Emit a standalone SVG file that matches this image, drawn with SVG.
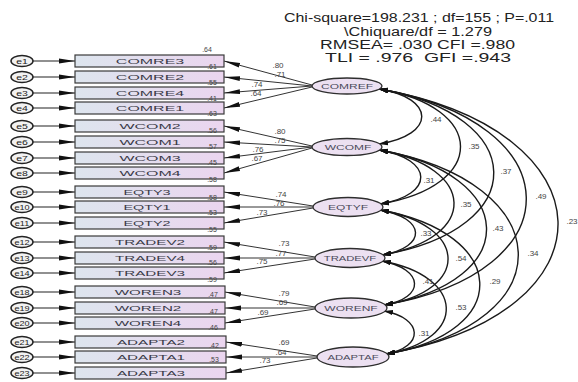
<svg xmlns="http://www.w3.org/2000/svg" width="578" height="382" viewBox="0 0 578 382">
<style>
text{font-family:"Liberation Sans",Arial,sans-serif}
.hd{font-size:12.5px;fill:#222;white-space:pre}
.ind rect{fill:url(#rg);stroke:#3a3a3a;stroke-width:1.2}
.it{font-size:8px;fill:#3a3a48;text-anchor:middle}
.r2{font-size:7px;fill:#444;text-anchor:middle}
.err ellipse{fill:#f2f2f2;stroke:#222;stroke-width:1.5}
.et{font-size:7px;fill:#222;text-anchor:middle}
.lat ellipse{fill:#ece0f1;stroke:#2e2e2e;stroke-width:1.3}
.lt{font-size:7.5px;fill:#4a4a5a;text-anchor:middle}
.ea{stroke:#222;stroke-width:1.1;fill:none;marker-end:url(#ah)}
.ld{stroke:#333;stroke-width:1;fill:none;marker-end:url(#ah)}
.cv{stroke:#1a1a1a;stroke-width:1.4;fill:none;marker-start:url(#am);marker-end:url(#am)}
.n{font-size:8px;fill:#444;text-anchor:middle}
</style>
<defs>
<linearGradient id="rg" x1="0" x2="1" y1="0" y2="0"><stop offset="0" stop-color="#dde5ee"/><stop offset="1" stop-color="#ebd5ef"/></linearGradient>
<marker id="ah" markerUnits="userSpaceOnUse" markerWidth="17" markerHeight="6" refX="16" refY="3" orient="auto"><path d="M0,0.6 L16,3 L0,5.4 Z" fill="#111"/></marker>
<marker id="am" markerUnits="userSpaceOnUse" markerWidth="10" markerHeight="7" refX="9" refY="3.5" orient="auto-start-reverse"><path d="M0,0.8 L9,3.5 L0,6.2 Z" fill="#111"/></marker>
</defs>
<rect width="578" height="382" fill="#fff"/>
<g id="header">
<text class="hd" x="284" y="22" textLength="270" lengthAdjust="spacingAndGlyphs">Chi-square=198.231 ; df=155 ; P=.011</text>
<text class="hd" x="344" y="35.5" textLength="148" lengthAdjust="spacingAndGlyphs">\Chiquare/df = 1.279</text>
<text class="hd" x="320" y="49" textLength="195" lengthAdjust="spacingAndGlyphs">RMSEA= .030 CFI =.980</text>
<text class="hd" x="325" y="62" textLength="186" lengthAdjust="spacingAndGlyphs">TLI = .976  GFI =.943</text>
</g>
<g id="connectors">
<line class="ea" x1="33" y1="61" x2="75" y2="61"/>
<line class="ea" x1="33" y1="77" x2="75" y2="77"/>
<line class="ea" x1="33" y1="93" x2="75" y2="93"/>
<line class="ea" x1="33" y1="108" x2="75" y2="108"/>
<line class="ea" x1="33" y1="126" x2="75" y2="126"/>
<line class="ea" x1="33" y1="142" x2="75" y2="142"/>
<line class="ea" x1="33" y1="158" x2="75" y2="158"/>
<line class="ea" x1="33" y1="173" x2="75" y2="173"/>
<line class="ea" x1="33" y1="192" x2="75" y2="192"/>
<line class="ea" x1="33" y1="207" x2="75" y2="207"/>
<line class="ea" x1="33" y1="223" x2="75" y2="223"/>
<line class="ea" x1="33" y1="242" x2="75" y2="242"/>
<line class="ea" x1="33" y1="258" x2="75" y2="258"/>
<line class="ea" x1="33" y1="273" x2="75" y2="273"/>
<line class="ea" x1="33" y1="292" x2="75" y2="292"/>
<line class="ea" x1="33" y1="308" x2="75" y2="308"/>
<line class="ea" x1="33" y1="323" x2="75" y2="323"/>
<line class="ea" x1="33" y1="342" x2="75" y2="342"/>
<line class="ea" x1="33" y1="357" x2="75" y2="357"/>
<line class="ea" x1="33" y1="373" x2="75" y2="373"/>
<line class="ld" x1="312" y1="85" x2="224" y2="61"/>
<line class="ld" x1="312" y1="86" x2="224" y2="77"/>
<line class="ld" x1="312" y1="86" x2="224" y2="93"/>
<line class="ld" x1="312" y1="87" x2="224" y2="108"/>
<line class="ld" x1="312" y1="146" x2="224" y2="126"/>
<line class="ld" x1="312" y1="147" x2="224" y2="142"/>
<line class="ld" x1="312" y1="147" x2="224" y2="158"/>
<line class="ld" x1="312" y1="148" x2="224" y2="173"/>
<line class="ld" x1="313" y1="206" x2="224" y2="192"/>
<line class="ld" x1="313" y1="207" x2="224" y2="207"/>
<line class="ld" x1="313" y1="208" x2="224" y2="223"/>
<line class="ld" x1="315" y1="257" x2="224" y2="242"/>
<line class="ld" x1="315" y1="258" x2="224" y2="258"/>
<line class="ld" x1="315" y1="259" x2="224" y2="273"/>
<line class="ld" x1="315" y1="307" x2="225" y2="292"/>
<line class="ld" x1="315" y1="308" x2="225" y2="308"/>
<line class="ld" x1="315" y1="309" x2="225" y2="323"/>
<line class="ld" x1="317" y1="356" x2="226" y2="342"/>
<line class="ld" x1="317" y1="357" x2="226" y2="357"/>
<line class="ld" x1="317" y1="358" x2="226" y2="373"/>
<path class="cv" d="M379,89 C436,98 436,135 379,144"/>
<path class="cv" d="M379,89 C487,107 488,186 380,204"/>
<path class="cv" d="M379,89 C530,115 533,229 382,255"/>
<path class="cv" d="M379,89 C572,122 577,272 384,305"/>
<path class="cv" d="M379,89 C613,130 620,313 386,354"/>
<path class="cv" d="M379,150 C434,159 435,195 380,204"/>
<path class="cv" d="M379,150 C477,167 480,238 382,255"/>
<path class="cv" d="M379,150 C519,174 524,281 384,305"/>
<path class="cv" d="M379,150 C560,182 567,323 386,354"/>
<path class="cv" d="M380,210 C426,218 428,247 382,255"/>
<path class="cv" d="M380,210 C468,225 472,290 384,305"/>
<path class="cv" d="M380,210 C509,233 515,332 386,354"/>
<path class="cv" d="M382,261 C424,269 426,298 384,305"/>
<path class="cv" d="M382,261 C465,276 469,339 386,354"/>
<path class="cv" d="M384,311 C423,318 425,347 386,354"/>
<text class="n" x="278" y="68">.80</text>
<text class="n" x="280" y="77">.71</text>
<text class="n" x="257" y="87">.74</text>
<text class="n" x="256" y="96">.64</text>
<text class="n" x="280" y="134">.80</text>
<text class="n" x="280" y="143">.75</text>
<text class="n" x="258" y="152">.76</text>
<text class="n" x="257" y="161">.67</text>
<text class="n" x="281" y="197">.74</text>
<text class="n" x="279" y="206">.76</text>
<text class="n" x="262" y="215">.73</text>
<text class="n" x="284" y="246">.73</text>
<text class="n" x="281" y="256">.77</text>
<text class="n" x="262" y="264">.75</text>
<text class="n" x="284" y="296">.79</text>
<text class="n" x="282" y="305">.69</text>
<text class="n" x="263" y="315">.69</text>
<text class="n" x="284" y="345">.69</text>
<text class="n" x="281" y="355">.64</text>
<text class="n" x="265" y="363">.73</text>
<text class="n" x="436" y="122">.44</text>
<text class="n" x="474" y="149">.35</text>
<text class="n" x="506" y="174">.37</text>
<text class="n" x="541" y="199">.49</text>
<text class="n" x="572" y="224">.23</text>
<text class="n" x="429" y="183">.31</text>
<text class="n" x="466" y="207">.35</text>
<text class="n" x="498" y="231">.43</text>
<text class="n" x="533" y="256">.34</text>
<text class="n" x="426" y="236">.33</text>
<text class="n" x="461" y="261">.54</text>
<text class="n" x="495" y="284">.29</text>
<text class="n" x="428" y="284">.41</text>
<text class="n" x="461" y="310">.53</text>
<text class="n" x="424" y="336">.31</text>
</g>
<g id="errors" class="err">
<g id="e1"><ellipse cx="22" cy="61" rx="11" ry="5.5"/><text class="et" transform="translate(22,63.5) scale(1.5,1)">e1</text></g>
<g id="e2"><ellipse cx="22" cy="77" rx="11" ry="5.5"/><text class="et" transform="translate(22,79.5) scale(1.5,1)">e2</text></g>
<g id="e3"><ellipse cx="22" cy="93" rx="11" ry="5.5"/><text class="et" transform="translate(22,95.5) scale(1.5,1)">e3</text></g>
<g id="e4"><ellipse cx="22" cy="108" rx="11" ry="5.5"/><text class="et" transform="translate(22,110.5) scale(1.5,1)">e4</text></g>
<g id="e5"><ellipse cx="22" cy="126" rx="11" ry="5.5"/><text class="et" transform="translate(22,128.5) scale(1.5,1)">e5</text></g>
<g id="e6"><ellipse cx="22" cy="142" rx="11" ry="5.5"/><text class="et" transform="translate(22,144.5) scale(1.5,1)">e6</text></g>
<g id="e7"><ellipse cx="22" cy="158" rx="11" ry="5.5"/><text class="et" transform="translate(22,160.5) scale(1.5,1)">e7</text></g>
<g id="e8"><ellipse cx="22" cy="173" rx="11" ry="5.5"/><text class="et" transform="translate(22,175.5) scale(1.5,1)">e8</text></g>
<g id="e9"><ellipse cx="22" cy="192" rx="11" ry="5.5"/><text class="et" transform="translate(22,194.5) scale(1.5,1)">e9</text></g>
<g id="e10"><ellipse cx="22" cy="207" rx="11" ry="5.5"/><text class="et" transform="translate(22,209.5) scale(1.3,1)">e10</text></g>
<g id="e11"><ellipse cx="22" cy="223" rx="11" ry="5.5"/><text class="et" transform="translate(22,225.5) scale(1.3,1)">e11</text></g>
<g id="e12"><ellipse cx="22" cy="242" rx="11" ry="5.5"/><text class="et" transform="translate(22,244.5) scale(1.3,1)">e12</text></g>
<g id="e13"><ellipse cx="22" cy="258" rx="11" ry="5.5"/><text class="et" transform="translate(22,260.5) scale(1.3,1)">e13</text></g>
<g id="e14"><ellipse cx="22" cy="273" rx="11" ry="5.5"/><text class="et" transform="translate(22,275.5) scale(1.3,1)">e14</text></g>
<g id="e18"><ellipse cx="22" cy="292" rx="11" ry="5.5"/><text class="et" transform="translate(22,294.5) scale(1.3,1)">e18</text></g>
<g id="e19"><ellipse cx="22" cy="308" rx="11" ry="5.5"/><text class="et" transform="translate(22,310.5) scale(1.3,1)">e19</text></g>
<g id="e20"><ellipse cx="22" cy="323" rx="11" ry="5.5"/><text class="et" transform="translate(22,325.5) scale(1.3,1)">e20</text></g>
<g id="e21"><ellipse cx="22" cy="342" rx="11" ry="5.5"/><text class="et" transform="translate(22,344.5) scale(1.3,1)">e21</text></g>
<g id="e22"><ellipse cx="22" cy="357" rx="11" ry="5.5"/><text class="et" transform="translate(22,359.5) scale(1.3,1)">e22</text></g>
<g id="e23"><ellipse cx="22" cy="373" rx="11" ry="5.5"/><text class="et" transform="translate(22,375.5) scale(1.3,1)">e23</text></g>
</g>
<g id="indicators" class="ind">
<text class="r2" x="207" y="52">.64</text>
<g id="COMRE3"><rect x="75" y="55" width="149" height="12"/><text class="it" transform="translate(150,64) scale(2,1)">COMRE3</text><text class="r2" x="212" y="69">.61</text></g>
<g id="COMRE2"><rect x="75" y="71" width="149" height="12"/><text class="it" transform="translate(150,80) scale(2,1)">COMRE2</text><text class="r2" x="212" y="85">.55</text></g>
<g id="COMRE4"><rect x="75" y="87" width="149" height="12"/><text class="it" transform="translate(150,96) scale(2,1)">COMRE4</text><text class="r2" x="212" y="101">.41</text></g>
<g id="COMRE1"><rect x="75" y="102" width="149" height="12"/><text class="it" transform="translate(150,111) scale(2,1)">COMRE1</text><text class="r2" x="212" y="116">.63</text></g>
<g id="WCOM2"><rect x="75" y="120" width="149" height="12"/><text class="it" transform="translate(150,129) scale(2,1)">WCOM2</text><text class="r2" x="212" y="133">.56</text></g>
<g id="WCOM1"><rect x="75" y="136" width="149" height="12"/><text class="it" transform="translate(150,145) scale(2,1)">WCOM1</text><text class="r2" x="212" y="149">.57</text></g>
<g id="WCOM3"><rect x="75" y="152" width="149" height="12"/><text class="it" transform="translate(150,161) scale(2,1)">WCOM3</text><text class="r2" x="212" y="165">.45</text></g>
<g id="WCOM4"><rect x="75" y="167" width="149" height="12"/><text class="it" transform="translate(150,176) scale(2,1)">WCOM4</text><text class="r2" x="212" y="182">.58</text></g>
<g id="EQTY3"><rect x="75" y="186" width="149" height="12"/><text class="it" transform="translate(147,195) scale(1.8,1)">EQTY3</text><text class="r2" x="212" y="200">.58</text></g>
<g id="EQTY1"><rect x="75" y="201" width="149" height="12"/><text class="it" transform="translate(147,210) scale(1.8,1)">EQTY1</text><text class="r2" x="212" y="215">.53</text></g>
<g id="EQTY2"><rect x="75" y="217" width="149" height="12"/><text class="it" transform="translate(147,226) scale(1.8,1)">EQTY2</text><text class="r2" x="212" y="232">.55</text></g>
<g id="TRADEV2"><rect x="75" y="236" width="149" height="12"/><text class="it" transform="translate(150,245) scale(1.9,1)">TRADEV2</text><text class="r2" x="212" y="250">.59</text></g>
<g id="TRADEV4"><rect x="75" y="252" width="149" height="12"/><text class="it" transform="translate(150,261) scale(1.9,1)">TRADEV4</text><text class="r2" x="212" y="265">.56</text></g>
<g id="TRADEV3"><rect x="75" y="267" width="149" height="12"/><text class="it" transform="translate(150,276) scale(1.9,1)">TRADEV3</text><text class="r2" x="212" y="282">.59</text></g>
<g id="WOREN3"><rect x="75" y="286" width="150" height="12"/><text class="it" transform="translate(148,295) scale(1.9,1)">WOREN3</text><text class="r2" x="213" y="297">.47</text></g>
<g id="WOREN2"><rect x="75" y="302" width="150" height="12"/><text class="it" transform="translate(148,311) scale(1.9,1)">WOREN2</text><text class="r2" x="213" y="314">.47</text></g>
<g id="WOREN4"><rect x="75" y="317" width="150" height="12"/><text class="it" transform="translate(148,326) scale(1.9,1)">WOREN4</text><text class="r2" x="213" y="330">.46</text></g>
<g id="ADAPTA2"><rect x="75" y="336" width="151" height="12"/><text class="it" transform="translate(151,345) scale(1.9,1)">ADAPTA2</text><text class="r2" x="214" y="348">.42</text></g>
<g id="ADAPTA1"><rect x="75" y="351" width="151" height="12"/><text class="it" transform="translate(151,360) scale(1.9,1)">ADAPTA1</text><text class="r2" x="214" y="362">.53</text></g>
<g id="ADAPTA3"><rect x="75" y="367" width="151" height="12"/><text class="it" transform="translate(151,376) scale(1.9,1)">ADAPTA3</text></g>
</g>
<g id="latents" class="lat">
<g id="COMREF"><ellipse cx="347" cy="86" rx="35" ry="8"/><text class="lt" transform="translate(347,89) scale(1.6,1)">COMREF</text></g>
<g id="WCOMF"><ellipse cx="347" cy="147" rx="35" ry="8.5"/><text class="lt" transform="translate(348,150) scale(1.6,1)">WCOMF</text></g>
<g id="EQTYF"><ellipse cx="348" cy="207" rx="35" ry="9.5"/><text class="lt" transform="translate(348,210) scale(1.6,1)">EQTYF</text></g>
<g id="TRADEVF"><ellipse cx="350" cy="258" rx="35" ry="9.5"/><text class="lt" transform="translate(350,261) scale(1.5,1)">TRADEVF</text></g>
<g id="WORENF"><ellipse cx="351" cy="308" rx="36" ry="10"/><text class="lt" transform="translate(351,311) scale(1.6,1)">WORENF</text></g>
<g id="ADAPTAF"><ellipse cx="353" cy="357" rx="36" ry="10"/><text class="lt" transform="translate(353,360) scale(1.5,1)">ADAPTAF</text></g>
</g>
</svg>
